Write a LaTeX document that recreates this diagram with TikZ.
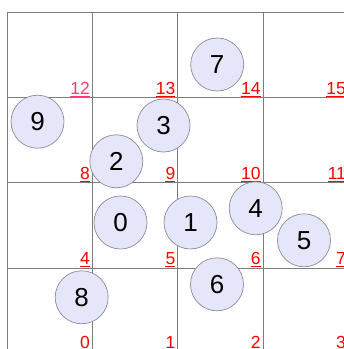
\documentclass[tikz,border=0pt]{standalone}
\usepackage{fontspec}
\setmainfont{Liberation Sans}
\definecolor{gridc}{RGB}{125,125,125}
\definecolor{discfill}{RGB}{230,230,250}
\definecolor{discline}{RGB}{140,140,150}
\definecolor{labred}{RGB}{255,0,0}
\definecolor{labpink}{RGB}{255,60,110}
\tikzset{
  gridline/.style={draw=gridc, line width=0.9pt},
  disc/.style={circle, draw=discline, fill=discfill, line width=0.7pt, minimum size=53pt, inner sep=0pt, font=\fontsize{26}{30}\selectfont},
  cellnum/.style={anchor=base east, inner sep=0pt, text=labred, font=\fontsize{17.5}{20}\selectfont},
  underl/.style={draw=labred, line width=1pt}
}
\begin{document}
\begin{tikzpicture}[x=1pt,y=-1pt]
\useasboundingbox (0,0) rectangle (344,349);
\clip (0,0) rectangle (344,349);
\fill[white] (0,0) rectangle (344,349);
% grid
\foreach \k in {0,...,4} {
  \draw[gridline] (7,{12+85.33*\k}) -- (360,{12+85.33*\k});
  \draw[gridline] ({7+85.33*\k},12) -- ({7+85.33*\k},360);
}
% cell labels
\foreach \r in {0,...,3} {
  \foreach \c in {0,...,3} {
    \pgfmathtruncatemacro{\n}{4*\r+\c}
    \pgfmathsetmacro{\xr}{7+85.33*(\c+1)-2.2}
    \pgfmathsetmacro{\yb}{\r==0 ? 348.3 : 12+85.33*(4-\r)-3}
    \ifnum\n=12
      \node[cellnum, text=labpink] (l\n) at (\xr,\yb) {\n};
      \draw[underl, draw=labpink] ([yshift=-2pt]l\n.base west) -- ([yshift=-2pt]l\n.base east);
    \else
      \node[cellnum] (l\n) at (\xr,\yb) {\n};
      \draw[underl] ([yshift=-2pt]l\n.base west) -- ([yshift=-2pt]l\n.base east);
    \fi
  }
}
% discs
\node[disc] (c9) at (37.5,121.7) {9};
\node[disc] (c2) at (116.3,161.3) {2};
\node[disc] (c3) at (163.5,125.5) {3};
\node[disc] (c7) at (217.2,64.5) {7};
\node[disc] (c0) at (120.5,222.5) {0};
\node[disc] (c1) at (190.5,222.5) {1};
\node[disc] (c4) at (255.7,208.3) {4};
\node[disc] (c5) at (304,240.3) {5};
\node[disc] (c6) at (217,284.3) {6};
\node[disc] (c8) at (81.7,297.3) {8};
\end{tikzpicture}
\end{document}
